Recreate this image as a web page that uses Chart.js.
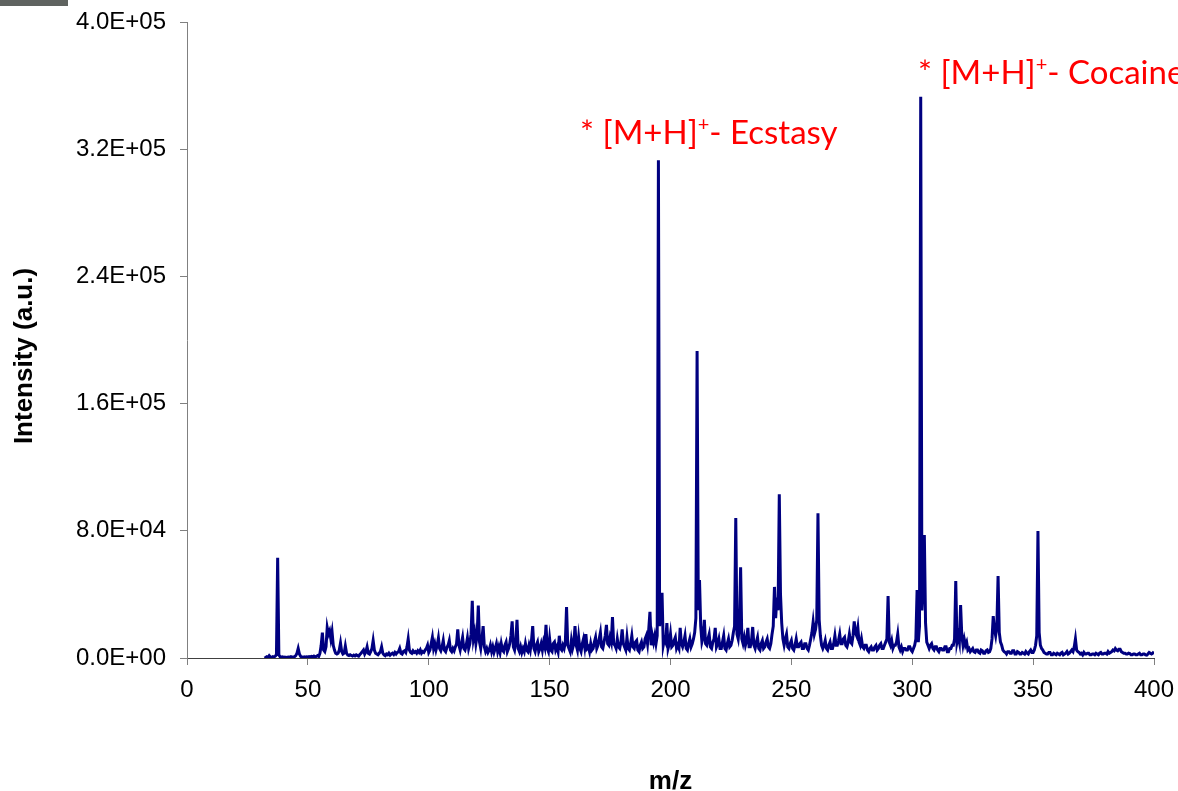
<!DOCTYPE html>
<html>
<head>
<meta charset="utf-8">
<script src="https://cdn.jsdelivr.net/npm/chart.js@4.4.1/dist/chart.umd.min.js"></script>
<style>
  body { margin: 0; background: #fff; }
  #wrap { width: 1178px; height: 791px; }
</style>
</head>
<body>
<div id="wrap"><canvas id="spectrum" width="1178" height="791"></canvas></div>
<script>
// spectrum is sampled every 0.5 m/z, starting at m/z 32
const mzStart = 32;
const mzStep = 0.5;

// intensity in thousands (a.u. / 1000), one row per 10 m/z
const intensityK = [
  0, 0.3, 0.8, 0.4, 1.5, 0.6, 0.5, 0.9, 0.6, 1.2, 2, 63, 2, 0.8, 0.5, 0.7, 0.4, 0.6, 0.3, 0.5,          // 32
  0.6, 0.4, 0.8, 0.5, 0.6, 0.9, 1.5, 3, 6, 2.5, 1, 0.6, 0.4, 0.7, 0.5, 0.8, 0.6, 0.9, 0.7, 1,            // 42
  0.8, 1.2, 0.7, 1, 1.5, 1, 3, 8, 16, 5, 4, 7, 19, 15, 17, 12, 16.5, 8, 5, 3,                            // 52
  2.5, 3, 5, 9.4, 4, 2.5, 3, 7.5, 3, 1.8, 1.5, 2, 1.6, 1.2, 1.8, 1.3, 2, 1.5, 1.2, 2.2,                  // 62
  3, 4, 5, 2.5, 4, 7, 3, 2.5, 4, 6, 11, 5, 3, 2.5, 2, 3, 4, 7, 3, 2,                                     // 72
  1.5, 2.5, 2, 3, 1.8, 2.6, 3, 2.2, 3.5, 2.5, 3.5, 4, 6, 3, 2.5, 4, 4.5, 3.5, 7, 12,                     // 82
  5, 3.5, 3, 4.5, 3.5, 4, 3, 4.5, 3.5, 5, 3, 4, 3.5, 5, 6, 8, 3.5, 5, 9, 13,                             // 92
  6, 9, 5, 8, 12.6, 6, 4.5, 7, 11, 5, 4, 6.5, 8, 11, 5, 4, 6, 4.5, 7, 9,                                 // 102
  18, 8, 5, 9, 13, 6, 5, 8, 12.6, 6, 9, 15, 36, 12, 16, 9, 14, 33, 10, 6,                                // 112
  12, 20, 7, 4, 6, 3.5, 5, 8, 4, 7, 3.5, 6, 9, 4, 7, 3.5, 9, 5, 4, 8,                                    // 122
  10, 4, 6, 9, 14, 23, 7, 5, 10, 24, 6, 4, 7, 3.5, 6, 4, 9, 5, 4, 8,                                     // 132
  5, 11, 20, 6, 4, 8, 10, 4, 6, 9, 5, 10, 7, 20.8, 6, 4, 12, 5, 4, 9,                                    // 142
  10, 5, 7, 4, 14, 6, 5, 8, 6, 10, 32, 8, 6, 4, 11, 6, 9, 20, 8, 5,                                      // 152
  13, 6, 4, 9, 12, 7, 15, 6, 7, 4, 9, 5, 6, 10, 13, 6, 8, 12, 16, 7,                                     // 162
  6, 10, 14, 20.8, 9, 8, 13, 10, 25.8, 9, 8, 6, 12, 7, 6, 10, 18, 9, 7, 5,                               // 172
  13, 6, 5, 9, 14, 7, 6, 10, 11, 5, 4, 8, 10, 6, 7, 12, 14, 9, 18, 29,                                   // 182
  8, 14, 10, 14, 9, 14, 313, 20, 30, 41, 8, 12, 10, 22, 6, 9, 15, 7, 8, 11,                              // 192
  13, 6, 8, 6, 19, 9, 7, 10, 14, 6, 5, 9, 12, 7, 9, 12, 16, 25, 193, 30,                                 // 202
  49, 20, 10, 13, 24, 9, 8, 12, 15, 7, 6, 10, 12, 19, 7, 9, 12, 6, 6, 10,                                // 212
  14, 6, 5, 9, 12, 7, 8, 11, 16, 20, 88, 15, 12, 20, 57, 12, 9, 13, 8, 11,                               // 222
  19, 7, 7, 11, 19.5, 8, 6, 10, 13, 6, 5, 9, 11, 6, 7, 10, 12, 7, 6, 9,                                  // 232
  15, 20, 44.7, 25, 38, 30, 103, 40, 22, 12, 8, 12, 15, 7, 6, 9, 11, 6, 5, 8,                            // 242
  12, 7, 7, 9, 10, 6, 6, 9, 9, 6, 5, 8, 12, 16, 22.6, 15, 18, 24, 91, 24,                                // 252
  14, 8, 6, 8, 11, 6, 5, 8, 10, 6, 6, 9, 14, 8, 8, 11, 15, 9, 9, 12,                                     // 262
  13, 8, 7, 10, 15, 10, 9, 14, 23, 16, 14, 19, 10, 8, 12, 7, 6, 8, 8, 5,                                 // 272
  4, 6, 7, 5, 5, 7, 8, 5, 6, 8, 9, 6, 6, 8, 10, 12, 39, 10, 8, 11,                                       // 282
  6, 8, 8, 10, 15, 7, 5, 7, 4, 6, 6, 5, 5, 7, 7, 5, 4, 6, 8, 12,                                         // 292
  42.8, 10, 20, 353, 30, 45, 77.4, 22, 10, 8, 6, 8, 9, 6, 5, 7, 7, 5, 4, 6,                              // 302
  6, 5, 5, 7, 7, 4, 4, 6, 6, 8, 8, 12, 48.4, 10, 14, 10, 33.3, 14, 8, 12,                                // 312
  8, 10, 5, 6, 4, 5, 6, 4, 3.5, 5, 5, 3.5, 3, 5, 4.5, 3, 3, 4.5, 5, 3.5,                                 // 322
  4, 6, 12, 26.4, 18, 14, 20, 51.6, 16, 10, 8, 5, 4, 3.5, 2.5, 4, 4, 3, 3, 4.5,                          // 332
  4.5, 2.5, 2.5, 4, 3.5, 2.5, 2.5, 3.5, 3, 2.5, 4, 3, 2.5, 4, 5, 3.5, 3.5, 5, 8, 14,                     // 342
  79.9, 16, 8, 6, 5, 3.5, 3, 2.5, 2.5, 3.5, 3.5, 2, 2, 3, 2.5, 2, 3, 2.5, 2, 3,                          // 352
  3.5, 2, 2.5, 3, 4, 2.5, 3, 4, 5, 4, 7, 12, 5, 4, 3.5, 2.5, 3, 2, 3.5, 2.5,                             // 362
  2.5, 3, 3, 2, 2, 2.5, 2.5, 2, 3, 2.5, 2, 3, 3.5, 2.5, 2.5, 3, 3, 2.5, 4, 3,                            // 372
  3.5, 4, 5, 4.5, 6, 5, 4.5, 5.5, 5.5, 4, 3.5, 3, 3, 2.5, 2.5, 3, 2.8, 2, 2, 2.5,                        // 382
  2.5, 2, 2, 2.5, 3, 2, 2, 2.5, 2.5, 2, 1.8, 2.5, 3.5, 3, 2.5, 3, 4                                      // 392
];

const xTicks = [0, 50, 100, 150, 200, 250, 300, 350, 400];
const yTicks = [0, 80000, 160000, 240000, 320000, 400000];
const yTitle = 'Intensity (a.u.)';
const xTitle = 'm/z';

// peak labels: text, superscript, text after, anchor m/z, anchor intensity
const labels = [
  ['* [M+H]', '+', '- Ecstasy', 162.6, 323000],
  ['* [M+H]', '+', '- Cocaine', 302.4, 361000]
];

const sciFmt = (v) => {
  const [m, e] = Number(v).toExponential(1).toUpperCase().split('E');
  return m + 'E' + e[0] + e.slice(1).padStart(2, '0');
};

const noEdgePad = (s) => {
  s.paddingTop = 0;
  s.paddingBottom = 0;
  s.paddingLeft = 0;
  s.paddingRight = 0;
};

const extras = {
  id: 'extras',
  beforeDraw(chart) {
    // small grey tab in the top-left corner
    const ctx = chart.ctx;
    ctx.save();
    ctx.fillStyle = '#5f6360';
    ctx.fillRect(0, 0, 68, 6);
    ctx.restore();
  },
  afterDraw(chart) {
    // y axis title sits a little below the middle of the axis
    const ctx = chart.ctx;
    ctx.save();
    ctx.translate(25, 356);
    ctx.rotate(-Math.PI / 2);
    ctx.font = 'bold 26px "Liberation Sans", Arial';
    ctx.fillStyle = '#000';
    ctx.textAlign = 'center';
    ctx.textBaseline = 'middle';
    ctx.fillText(yTitle, 0, 0);
    ctx.restore();
  },
  afterDatasetsDraw(chart) {
    const ctx = chart.ctx;
    const xs = chart.scales.x;
    const ys = chart.scales.y;
    ctx.save();
    ctx.fillStyle = '#ff0000';
    ctx.textBaseline = 'alphabetic';
    for (const [pre, sup, post, lx, ly] of labels) {
      let x = xs.getPixelForValue(lx);
      const y = ys.getPixelForValue(ly);
      ctx.font = '33px Lato';
      ctx.fillText(pre, x, y);
      x += ctx.measureText(pre).width;
      ctx.font = '20px Lato';
      ctx.fillText(sup, x, y - 13);
      x += ctx.measureText(sup).width;
      ctx.font = '33px Lato';
      ctx.fillText(post, x, y);
    }
    ctx.restore();
  }
};

const tickFont = { family: 'Liberation Sans, Arial', size: 24 };
const titleFont = { family: 'Liberation Sans, Arial', size: 26, weight: 'bold', lineHeight: 1 };

new Chart(document.getElementById('spectrum').getContext('2d'), {
  type: 'line',
  data: {
    datasets: [{
      data: intensityK.map((v, i) => ({ x: mzStart + i * mzStep, y: v * 1000 })),
      borderColor: '#000080',
      borderWidth: 3,
      pointRadius: 0,
      tension: 0,
      fill: false
    }]
  },
  options: {
    responsive: false,
    animation: false,
    layout: { padding: { top: 22, right: 24, left: 0, bottom: 0 } },
    plugins: { legend: { display: false }, tooltip: { enabled: false } },
    scales: {
      x: {
        type: 'linear',
        min: 0,
        max: 400,
        afterBuildTicks: (s) => { s.ticks = xTicks.map(v => ({ value: v })); },
        afterFit: (s) => { s.height = 133; noEdgePad(s); },
        ticks: { font: tickFont, color: '#000', padding: 11, maxRotation: 0 },
        grid: { drawOnChartArea: false, tickLength: 7, color: '#808080' },
        border: { color: '#404040', width: 1 },
        title: { display: true, text: xTitle, font: titleFont, color: '#000', padding: { top: 0, bottom: -4 } }
      },
      y: {
        min: 0,
        max: 400000,
        afterBuildTicks: (s) => { s.ticks = yTicks.map(v => ({ value: v })); },
        afterFit: (s) => { s.width = 187; noEdgePad(s); },
        ticks: { font: tickFont, color: '#000', padding: 14, callback: sciFmt },
        grid: { drawOnChartArea: false, tickLength: 7, color: '#808080' },
        border: { color: '#808080', width: 1 },
        title: { display: false }
      }
    }
  },
  plugins: [extras]
});
</script>
</body>
</html>
